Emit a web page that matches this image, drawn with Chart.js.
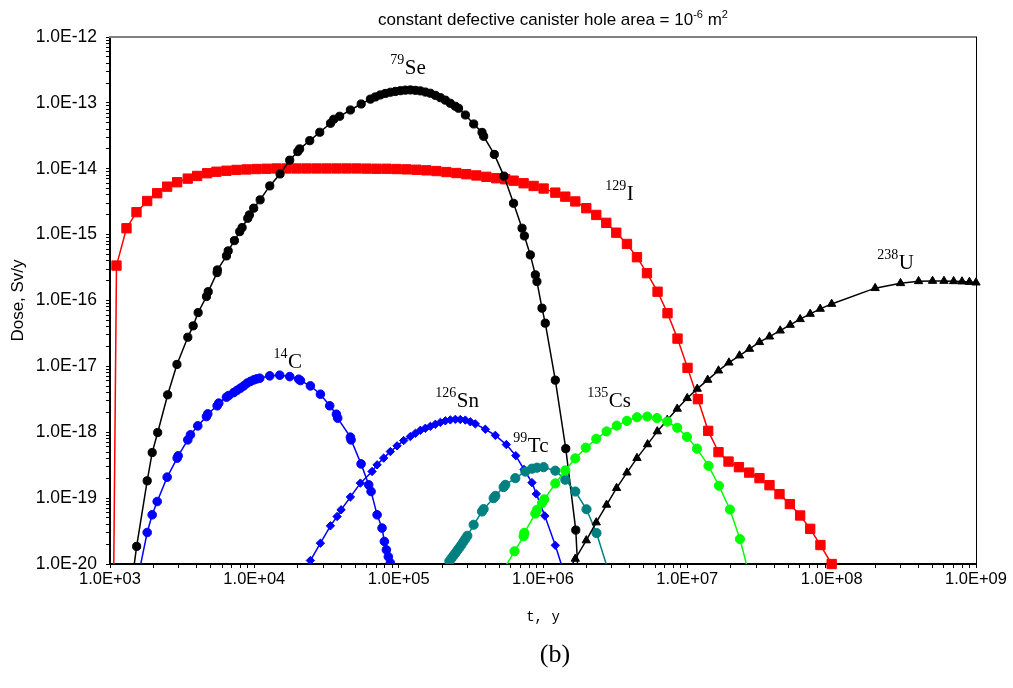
<!DOCTYPE html>
<html>
<head>
<meta charset="utf-8">
<script src="https://cdn.jsdelivr.net/npm/chart.js@4.4.1/dist/chart.umd.min.js"></script>
<style>
html,body{margin:0;padding:0;background:#fff;}
#wrap{position:relative;width:1013px;height:688px;overflow:hidden;}
#c{display:block;}
#title{position:absolute;left:0;top:11px;width:1106px;text-align:center;font-family:"Liberation Sans",Arial,sans-serif;font-size:17px;line-height:17px;white-space:nowrap;color:#000;}
#title .sup{font-size:11px;position:relative;top:-7px;}
#panel{position:absolute;left:0;top:641px;width:1110px;text-align:center;font-family:"Liberation Serif","Times New Roman",serif;font-size:26px;line-height:26px;color:#000;}
</style>
</head>
<body>
<div id="wrap">
<canvas id="c" width="1013" height="688"></canvas>
<div id="title">constant defective canister hole area = 10<span class="sup">-6</span> m<span class="sup">2</span></div>
<div id="panel">(b)</div>
</div>
<script>
// ---------------- data (t in years, dose in Sv/y) ----------------
const xTickLabels = ['1.0E+03','1.0E+04','1.0E+05','1.0E+06','1.0E+07','1.0E+08','1.0E+09'];
const yTickLabels = ['1.0E-20','1.0E-19','1.0E-18','1.0E-17','1.0E-16','1.0E-15','1.0E-14','1.0E-13','1.0E-12'];

const seT = [1.43e3,1.53e3,1.81e3,1.96e3,2.14e3,2.51e3,2.91e3,3.46e3,3.77e3,4.08e3,4.66e3,4.79e3,5.52e3,5.55e3,6.41e3,6.59e3,7.28e3,7.92e3,8.23e3,9.00e3,9.24e3,9.90e3,1.097e4,1.279e4,1.507e4,1.758e4,2.00e4,2.06e4,2.42e4,2.84e4,3.37e4,3.55e4,3.90e4,4.63e4,5.50e4,6.37e4,6.90e4,7.47e4,8.09e4,8.76e4,9.49e4,1.028e5,1.113e5,1.206e5,1.305e5,1.413e5,1.531e5,1.658e5,1.795e5,1.945e5,2.106e5,2.28e5,2.47e5,2.60e5,2.90e5,3.31e5,3.78e5,3.88e5,4.60e5,5.36e5,6.25e5,7.16e5,7.43e5,8.17e5,8.85e5,9.08e5,9.84e5,1.037e6,1.217e6,1.438e6,1.687e6,1.75e6];
const seD = [6.2e-21,1.85e-20,1.83e-19,4.92e-19,9.9e-19,3.70e-18,1.07e-17,2.77e-17,4.12e-17,6.55e-17,1.15e-16,1.36e-16,2.65e-16,2.91e-16,4.75e-16,5.66e-16,8.11e-16,1.11e-15,1.28e-15,1.77e-15,1.99e-15,2.52e-15,3.37e-15,5.49e-15,8.34e-15,1.35e-14,1.82e-14,2.0e-14,2.67e-14,3.58e-14,4.90e-14,5.64e-14,6.26e-14,7.80e-14,9.62e-14,1.14e-13,1.23e-13,1.32e-13,1.39e-13,1.45e-13,1.49e-13,1.53e-13,1.56e-13,1.57e-13,1.55e-13,1.52e-13,1.46e-13,1.40e-13,1.30e-13,1.20e-13,1.10e-13,9.86e-14,8.88e-14,8.28e-14,6.55e-14,4.78e-14,3.56e-14,3.11e-14,1.65e-14,7.73e-15,2.99e-15,1.25e-15,9.55e-16,4.92e-16,2.45e-16,1.94e-16,7.64e-17,4.53e-17,6.18e-18,5.64e-19,3.27e-20,6.85e-21];

const iT = [1.062e3,1.109e3,1.301e3,1.526e3,1.81e3,2.123e3,2.489e3,2.92e3,3.458e3,4.017e3,4.711e3,5.465e3,6.409e3,7.516e3,8.818e3,1.034e4,1.213e4,1.422e4,1.669e4,1.957e4,2.295e4,2.692e4,3.157e4,3.703e4,4.343e4,5.094e4,5.974e4,7.007e4,8.218e4,9.64e4,1.131e5,1.326e5,1.555e5,1.824e5,2.14e5,2.51e5,2.943e5,3.452e5,4.049e5,4.75e5,5.48e5,6.26e5,7.34e5,8.61e5,1.010e6,1.217e6,1.427e6,1.674e6,1.995e6,2.34e6,2.744e6,3.218e6,3.816e6,4.477e6,5.25e6,6.22e6,7.29e6,8.55e6,1.003e7,1.184e7,1.395e7,1.644e7,1.929e7,2.277e7,2.684e7,3.162e7,3.709e7,4.35e7,5.133e7,6.05e7,7.10e7,8.36e7,1.0e8];
const iD = [1.0e-20,3.39e-16,1.25e-15,2.19e-15,3.24e-15,4.25e-15,5.35e-15,6.24e-15,7.08e-15,7.78e-15,8.55e-15,9.01e-15,9.33e-15,9.60e-15,9.76e-15,9.90e-15,1.00e-14,1.01e-14,1.01e-14,1.01e-14,1.01e-14,1.01e-14,1.01e-14,1.01e-14,1.01e-14,1.01e-14,1.005e-14,1.00e-14,1.00e-14,9.90e-15,9.79e-15,9.66e-15,9.46e-15,9.23e-15,8.91e-15,8.61e-15,8.26e-15,7.91e-15,7.54e-15,7.18e-15,6.93e-15,6.59e-15,6.02e-15,5.48e-15,5.01e-15,4.34e-15,3.77e-15,3.19e-15,2.52e-15,1.99e-15,1.51e-15,1.07e-15,7.22e-16,4.54e-16,2.60e-16,1.36e-16,6.41e-17,2.64e-17,9.49e-18,3.18e-18,1.05e-18,4.99e-19,3.59e-19,2.95e-19,2.44e-19,2.01e-19,1.57e-19,1.15e-19,8.11e-20,5.45e-20,3.42e-20,1.94e-20,1.0e-20];

const cT = [1.549e3,1.81e3,1.96e3,2.123e3,2.489e3,2.92e3,2.967e3,3.458e3,3.61e3,4.055e3,4.659e3,4.757e3,5.526e3,5.669e3,6.409e3,6.647e3,7.20e3,7.60e3,8.01e3,8.45e3,8.915e3,9.40e3,9.904e3,1.039e4,1.09e4,1.278e4,1.50e4,1.759e4,2.03e4,2.086e4,2.446e4,2.87e4,3.328e4,3.703e4,3.781e4,4.63e4,4.68e4,5.49e4,6.20e4,6.44e4,7.09e4,7.67e4,7.96e4,8.22e4,8.48e4,8.76e4,9.12e4];
const cD = [5.7e-21,3.01e-20,5.58e-20,8.88e-20,2.08e-19,4.05e-19,4.39e-19,7.67e-19,9.14e-19,1.25e-18,1.73e-18,1.90e-18,2.52e-18,2.77e-18,3.41e-18,3.61e-18,4.00e-18,4.33e-18,4.67e-18,5.06e-18,5.56e-18,5.92e-18,6.24e-18,6.46e-18,6.62e-18,7.18e-18,7.35e-18,7.00e-18,6.39e-18,6.09e-18,5.06e-18,3.78e-18,2.52e-18,1.88e-18,1.64e-18,8.43e-19,7.67e-19,3.31e-19,1.59e-19,1.26e-19,5.58e-20,3.51e-20,2.20e-20,1.64e-20,1.29e-20,1.04e-20,7.6e-21];

const snT = [2.146e4,2.446e4,2.87e4,3.366e4,3.745e4,3.992e4,4.63e4,5.43e4,6.54e4,7.09e4,7.87e4,8.76e4,9.75e4,1.083e5,1.205e5,1.305e5,1.414e5,1.531e5,1.658e5,1.796e5,1.945e5,2.106e5,2.28e5,2.47e5,2.675e5,2.897e5,3.137e5,3.398e5,3.985e5,4.675e5,5.57e5,6.48e5,7.39e5,8.39e5,8.99e5,1.029e6,1.217e6,1.411e6];
const snD = [6.1e-21,1.13e-20,2.07e-20,3.80e-20,5.26e-20,6.65e-20,1.04e-19,1.69e-19,2.54e-19,3.20e-19,4.05e-19,5.09e-19,6.22e-19,7.48e-19,8.61e-19,9.62e-19,1.07e-18,1.15e-18,1.23e-18,1.32e-18,1.41e-18,1.49e-18,1.54e-18,1.57e-18,1.56e-18,1.53e-18,1.44e-18,1.34e-18,1.11e-18,8.97e-19,6.50e-19,4.41e-19,2.72e-19,1.72e-19,1.16e-19,5.38e-20,1.92e-20,6.9e-21];

const tcT = [2.14e5,2.245e5,2.317e5,2.392e5,2.470e5,2.550e5,2.633e5,2.718e5,2.806e5,2.897e5,2.991e5,3.307e5,3.781e5,3.879e5,4.55e5,4.675e5,5.335e5,5.482e5,6.43e5,7.54e5,8.39e5,9.09e5,1.010e6,1.217e6,1.427e6,1.674e6,2.001e6,2.348e6,2.89e6];
const tcD = [6.9e-21,1.10e-20,1.21e-20,1.33e-20,1.46e-20,1.61e-20,1.77e-20,1.95e-20,2.17e-20,2.41e-20,2.68e-20,3.94e-20,6.27e-20,6.81e-20,1.00e-19,1.08e-19,1.47e-19,1.59e-19,2.01e-19,2.53e-19,2.80e-19,2.90e-19,2.95e-19,2.61e-19,1.90e-19,1.26e-19,6.77e-20,2.95e-20,6.9e-21];

const csT = [5.08e5,6.35e5,7.34e5,7.42e5,8.85e5,9.09e5,9.84e5,1.021e6,1.217e6,1.427e6,1.674e6,1.979e6,2.339e6,2.757e6,3.244e6,3.816e6,4.477e6,5.276e6,6.16e6,7.26e6,8.51e6,9.94e6,1.166e7,1.402e7,1.655e7,1.972e7,2.314e7,2.68e7];
const csD = [6.9e-21,1.56e-20,2.63e-20,2.97e-20,5.83e-20,6.64e-20,8.39e-20,9.59e-20,1.67e-19,2.63e-19,4.02e-19,5.83e-19,7.94e-19,1.03e-18,1.26e-18,1.49e-18,1.69e-18,1.73e-18,1.64e-18,1.45e-18,1.17e-18,8.51e-19,5.64e-19,3.09e-19,1.54e-19,6.71e-20,2.39e-20,6.9e-21];

const uT = [1.454e6,1.674e6,1.995e6,2.339e6,2.757e6,3.234e6,3.816e6,4.477e6,5.302e6,6.19e6,7.26e6,8.51e6,9.98e6,1.171e7,1.384e7,1.644e7,1.942e7,2.299e7,2.696e7,3.162e7,3.709e7,4.40e7,5.16e7,6.05e7,7.10e7,8.33e7,1.0e8,2e8,3e8,4e8,5e8,6e8,7e8,8e8,9e8,1e9];
const uD = [6.9e-21,1.20e-20,2.28e-20,4.27e-20,7.91e-20,1.42e-19,2.44e-19,4.05e-19,6.55e-19,1.03e-18,1.54e-18,2.27e-18,3.29e-18,4.56e-18,6.24e-18,8.63e-18,1.14e-17,1.46e-17,1.84e-17,2.33e-17,2.83e-17,3.49e-17,4.26e-17,5.20e-17,6.26e-17,7.46e-17,8.87e-17,1.54e-16,1.83e-16,1.96e-16,1.98e-16,1.98e-16,1.96e-16,1.94e-16,1.91e-16,1.87e-16];

// isotope labels: mass number, element, anchor (t, dose) of the label
const isoMass = ['79','129','238','14','126','99','135'];
const isoName = ['Se','I','U','C','Sn','Tc','Cs'];
const isoT = [8.76e4,2.70e6,2.07e8,1.356e4,1.796e5,6.23e5,2.027e6];
const isoD = [2.74e-13,3.36e-15,3.02e-16,9.49e-18,2.43e-18,5.04e-19,2.43e-18];

// ---------------- chart ----------------
function pts(t, d){ return t.map((v,i)=>({x:v, y:d[i]})); }
function mk(label, t, d, color, style, r, clip, radiusFn){
  return {label, data: pts(t,d), borderColor: color, backgroundColor: color,
    borderWidth: 1.5, pointStyle: style, pointRadius: radiusFn || r,
    pointBorderWidth: 1, pointBorderColor: color, pointBackgroundColor: color,
    tension: 0, fill: false, clip: clip};
}
const baseClip = {left:0, top:0, right:0, bottom:0};
const datasets = [
  mk('135Cs', csT, csD, '#00ff00', 'circle', 4.6, baseClip),
  mk('238U', uT, uD, '#000000', 'triangle', 4.8, {left:0, top:0, right:8, bottom:0}),
  mk('99Tc', tcT, tcD, '#008080', 'circle', 4.6, baseClip),
  mk('126Sn', snT, snD, '#0000ff', 'rectRot', 4.2, baseClip),
  mk('14C', cT, cD, '#0000ff', 'circle', 4.3, baseClip),
  mk('79Se', seT, seD, '#000000', 'circle', 4.1, baseClip),
  mk('129I', iT, iD, '#ff0000', 'rect', 6.6, {left:0, top:0, right:0, bottom:7}, (c)=> c.dataIndex === 0 ? 0 : 6.6)
];

function logTicks(e0, e1){
  const ticks = [];
  for (let e = e0; e <= e1; e++) {
    for (let m = 1; m <= 9; m++) {
      if (e === e1 && m > 1) break;
      ticks.push({value: m * Math.pow(10, e), major: m === 1});
    }
  }
  return ticks;
}

const labelPlugin = {
  id: 'isotopeLabels',
  afterDatasetsDraw(chart){
    const ctx = chart.ctx, xs = chart.scales.x, ys = chart.scales.y;
    ctx.save();
    ctx.fillStyle = '#000';
    ctx.textAlign = 'left';
    ctx.textBaseline = 'alphabetic';
    for (let i = 0; i < isoMass.length; i++) {
      const px = xs.getPixelForValue(isoT[i]);
      const py = ys.getPixelForValue(isoD[i]);
      ctx.font = '14px "Liberation Serif", "Times New Roman", serif';
      ctx.fillText(isoMass[i], px, py - 10);
      const w = ctx.measureText(isoMass[i]).width;
      ctx.font = '21px "Liberation Serif", "Times New Roman", serif';
      ctx.fillText(isoName[i], px + w + 0.5, py);
    }
    ctx.restore();
  }
};

const xTickFont = {family: '"Liberation Sans", Arial, sans-serif', size: 16.5};
const yTickFont = {family: '"Liberation Sans", Arial, sans-serif', size: 17.5};

new Chart(document.getElementById('c'), {
  type: 'line',
  data: {datasets},
  plugins: [labelPlugin],
  options: {
    responsive: false,
    devicePixelRatio: 1,
    animation: false,
    events: [],
    layout: {padding: {left: 0, right: 37, top: 37, bottom: 62}},
    plugins: {legend: {display: false}, tooltip: {enabled: false}, title: {display: false}},
    scales: {
      x: {
        type: 'logarithmic', position: 'bottom', min: 1e3, max: 1e9,
        afterBuildTicks: (s) => { s.ticks = logTicks(3, 9); },
        afterFit: (s) => { s.height = 62; },
        ticks: {autoSkip: false, maxRotation: 0, minRotation: 0, color: '#000', font: xTickFont, padding: 2,
          callback: (v, i, t) => t[i] && t[i].major ? xTickLabels[Math.round(Math.log10(v)) - 3] : ''},
        grid: {display: true, drawOnChartArea: false, drawTicks: true, tickLength: 4, color: '#000', tickColor: '#000', tickWidth: 1},
        border: {display: true, color: '#000', width: 2},
        title: {display: true, text: 't, y', color: '#000', font: {family: '"Liberation Mono", "Courier New", monospace', size: 14}, padding: {top: 0, bottom: 0}}
      },
      y: {
        type: 'logarithmic', position: 'left', min: 1e-20, max: 1e-12,
        afterBuildTicks: (s) => { s.ticks = logTicks(-20, -12); },
        afterFit: (s) => { s.width = 110; },
        ticks: {autoSkip: false, color: '#000', font: yTickFont, padding: 9,
          callback: (v, i, t) => t[i] && t[i].major ? yTickLabels[Math.round(Math.log10(v)) + 20] : ''},
        grid: {display: true, drawOnChartArea: false, drawTicks: true, tickLength: 4, color: '#000', tickColor: '#000', tickWidth: 1},
        border: {display: true, color: '#000', width: 2},
        title: {display: true, text: 'Dose, Sv/y', color: '#000', font: {family: '"Liberation Sans", Arial, sans-serif', size: 17}, padding: {top: 8, bottom: 0}}
      },
      x2: {
        type: 'linear', position: 'top', min: 0, max: 1,
        afterFit: (s) => { s.height = 0; },
        ticks: {display: false}, grid: {display: false, drawTicks: false},
        border: {display: true, color: '#808080', width: 2}
      },
      y2: {
        type: 'linear', position: 'right', min: 0, max: 1,
        afterFit: (s) => { s.width = 0; },
        ticks: {display: false}, grid: {display: false, drawTicks: false},
        border: {display: true, color: '#000', width: 1}
      }
    }
  }
});
</script>
</body>
</html>
